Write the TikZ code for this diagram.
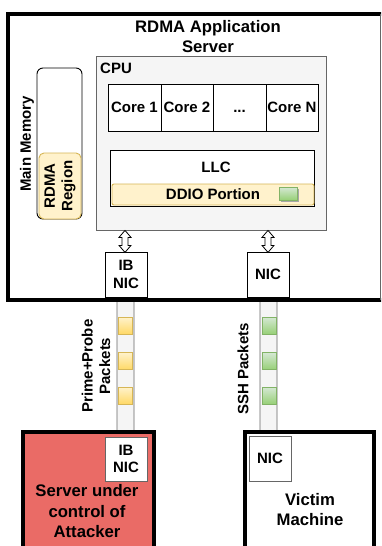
\documentclass[tikz,border=0pt]{standalone}
\usepackage{fontspec}
\setmainfont{Liberation Sans}
\usetikzlibrary{calc}
\definecolor{cpufill}{HTML}{F5F5F5}
\definecolor{cpuline}{HTML}{666666}
\definecolor{ylwfill}{HTML}{FFF2CC}
\definecolor{ylwdark}{HTML}{FFD966}
\definecolor{ylwline}{HTML}{D6B656}
\definecolor{grnfill}{HTML}{D5E8D4}
\definecolor{grndark}{HTML}{97D077}
\definecolor{grnline}{HTML}{82B366}
\definecolor{attfill}{HTML}{EA6B66}
\begin{document}
\begin{tikzpicture}[x=1pt,y=-1pt,
  lbl/.style={font=\fontsize{15}{17.5}\selectfont\bfseries, align=center, inner sep=0pt},
  biglbl/.style={font=\fontsize{16.7}{20.5}\selectfont\bfseries, align=center, inner sep=0pt},
  plain/.style={draw=black, line width=0.9pt, fill=white, inner sep=0pt, lbl},
  machine/.style={draw=black, line width=4pt, inner sep=0pt},
  tube/.style={draw=cpuline, line width=0.8pt, fill=cpufill, rounded corners=3pt, inner sep=0pt},
  ypkt/.style={draw=ylwline, line width=0.8pt, top color=ylwfill, bottom color=ylwdark, inner sep=0pt, minimum width=14pt, minimum height=17pt},
  gpkt/.style={draw=grnline, line width=0.8pt, top color=grnfill, bottom color=grndark, inner sep=0pt, minimum width=14pt, minimum height=17pt},
  harrow/.style={draw=black, line width=0.8pt, fill=white, line join=miter}
]
\useasboundingbox (0,0) rectangle (381,546);
\clip (0,0) rectangle (381,546);
\fill[white] (0,0) rectangle (381,546);

% network links (drawn first, behind the machines)
\node[tube, minimum width=17pt, minimum height=136pt] (link1) at (125.5,365.5) {};
\node[tube, minimum width=17pt, minimum height=136pt] (link2) at (268.5,365.5) {};

% packets in flight
\node[ypkt] (yp1) at (125,325.5) {};
\node[ypkt] (yp2) at (125,361) {};
\node[ypkt] (yp3) at (125,395.5) {};
\node[gpkt] (gp1) at (269,325.5) {};
\node[gpkt] (gp2) at (269,361) {};
\node[gpkt] (gp3) at (269,395.5) {};

\node[lbl, rotate=90] (pplabel) at (96,366) {Prime+Probe\\Packets};
\node[lbl, rotate=90] (sshlabel) at (243,369) {SSH Packets};

% application server
\node[machine, fill=white, minimum width=384pt, minimum height=286pt] (server) at (200,157) {};
\draw[cpuline, line width=0.8pt] (380.5,14) -- (380.5,300);
\node[biglbl] (servertitle) at (208,36.5) {RDMA Application\\Server};

% CPU
\node[draw=cpuline, line width=0.8pt, fill=cpufill, minimum width=230pt, minimum height=174pt] (cpu) at (211,143) {};
\node[lbl, anchor=west] (cpulabel) at (100,68) {CPU};
\node[plain, minimum width=53pt, minimum height=47pt] (core1) at (134.5,107.5) {Core 1};
\node[plain, minimum width=52pt, minimum height=47pt] (core2) at (187,107.5) {Core 2};
\node[plain, minimum width=53pt, minimum height=47pt] (core3) at (239.5,107.5) {\vphantom{C}...};
\node[plain, minimum width=52pt, minimum height=47pt] (coreN) at (292,107.5) {Core N};

% last level cache with DDIO ways
\node[plain, minimum width=204pt, minimum height=56pt] (llc) at (212,178) {};
\node[lbl] (llclabel) at (216,167) {LLC};
\node[draw=ylwline, line width=0.9pt, fill=ylwfill, rounded corners=2pt, minimum width=202pt, minimum height=21pt, inner sep=0pt] (ddio) at (213,194.5) {};
\node[lbl] (ddiolabel) at (213,194.5) {DDIO Portion};
\fill[black!35] (281,189) rectangle (299,202);
\node[draw=grnline, line width=0.8pt, top color=grnfill, bottom color=grndark, minimum width=18pt, minimum height=13pt, inner sep=0pt] (ddiopkt) at (288,193.5) {};

% main memory
\node[draw=black, line width=0.9pt, fill=white, rounded corners=6pt, minimum width=45pt, minimum height=151pt] (mem) at (59.5,143.5) {};
\node[lbl, rotate=90] (memlabel) at (27,144) {Main Memory};
\node[draw=ylwline, line width=0.9pt, fill=ylwfill, rounded corners=5pt, minimum width=42pt, minimum height=66pt, inner sep=0pt] (region) at (60,186) {};
\node[lbl, rotate=90] (regionlabel) at (60,186) {RDMA\\Region};

% NICs of the server
\node[plain, minimum width=42pt, minimum height=45pt] (ibnic) at (126,274.5) {IB\\NIC};
\node[plain, minimum width=42pt, minimum height=45pt] (nic) at (268,274.5) {NIC};

% hollow double arrows between CPU and NICs
\coordinate (a1) at ($(cpu.south -| ibnic.north)+(-1,0)$);
\coordinate (a2) at (cpu.south -| nic.north);
\foreach \a in {a1,a2}{
  \draw[harrow] (\a) -- ++(6,7) -- ++(-3,0) -- ++(0,8) -- ++(3,0) -- ++(-6,7)
    -- ++(-6,-7) -- ++(3,0) -- ++(0,-8) -- ++(-3,0) -- cycle;
}

% attacker machine
\node[machine, fill=attfill, minimum width=131pt, minimum height=130pt] (attacker) at (88,496.5) {};
\node[draw=cpuline, line width=0.9pt, fill=white, minimum width=42pt, minimum height=44pt, inner sep=0pt, lbl] (attnic) at (126,459) {IB\\NIC};
\node[biglbl] (attlabel) at (87,511.5) {Server under\\control of\\Attacker};

% victim machine
\node[machine, fill=white, minimum width=129pt, minimum height=130pt] (victim) at (309,496.5) {};
\node[draw=cpuline, line width=0.9pt, fill=white, minimum width=42pt, minimum height=45pt, inner sep=0pt, lbl] (vicnic) at (270,458.5) {NIC};
\node[biglbl] (viclabel) at (310,509.5) {Victim\\Machine};
\end{tikzpicture}
\end{document}
